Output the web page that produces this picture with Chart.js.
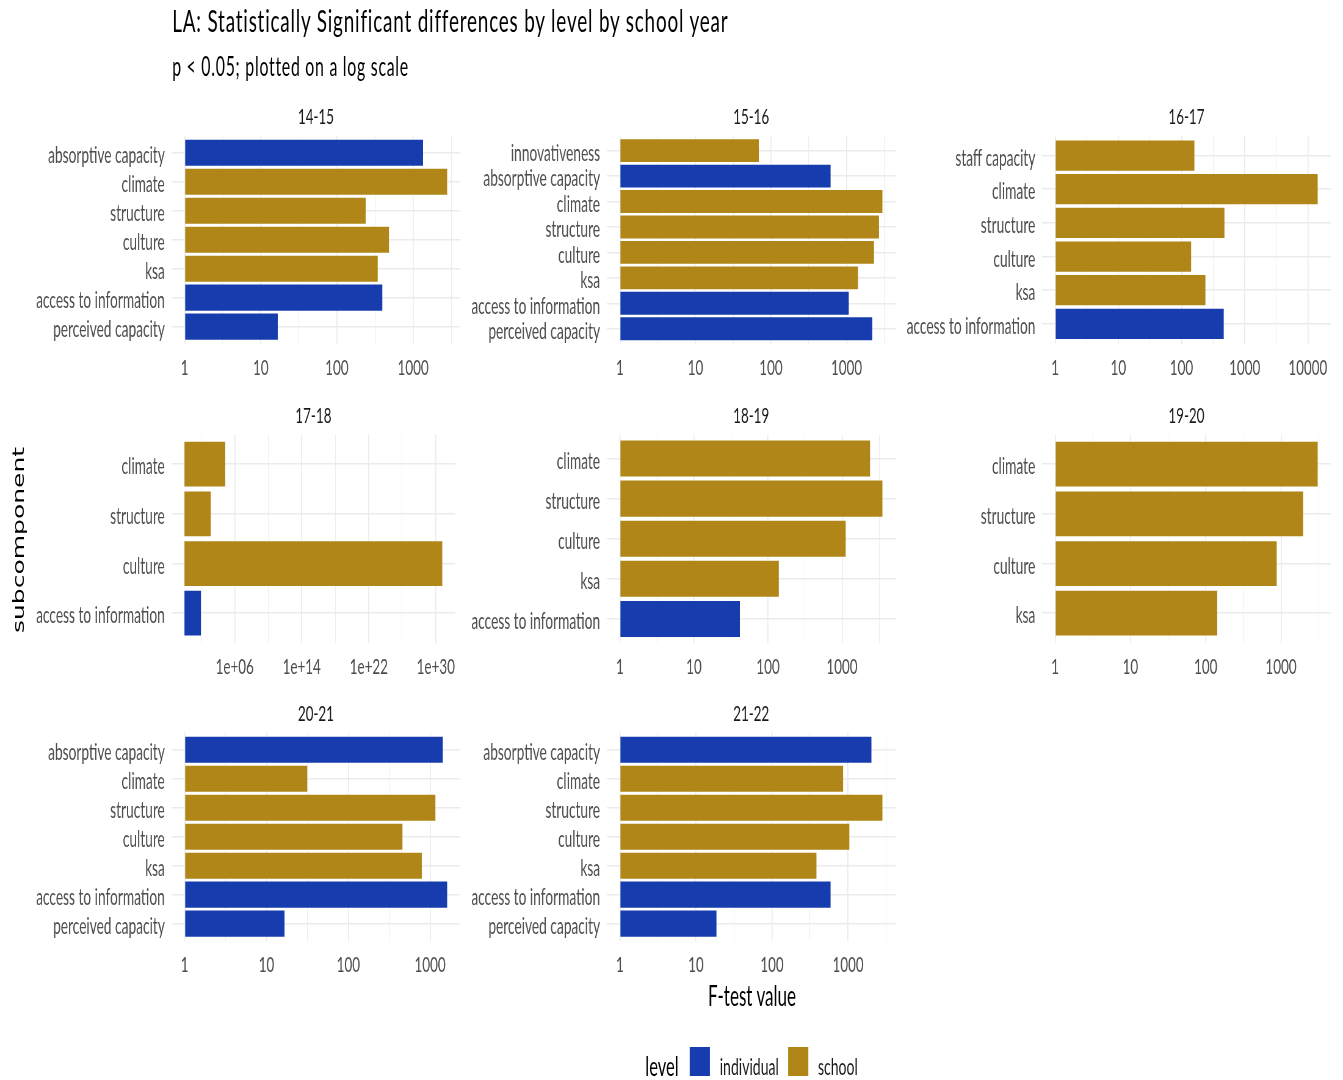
<!DOCTYPE html>
<html>
<head>
<meta charset="utf-8">
<title>LA: Statistically Significant differences by level by school year</title>
<script src="https://cdn.jsdelivr.net/npm/chart.js@4.4.1/dist/chart.umd.min.js"></script>
<style>
  html, body { margin: 0; padding: 0; background: #fff; overflow: hidden; }
  /* the original figure is a wide render squeezed sideways, so draw it wide and squeeze it */
  #page { position: relative; width: 2200px; height: 1080px; transform: scaleX(0.61045); transform-origin: 0 0;
          font-family: Lato, sans-serif; color: #000; }
  #page canvas { position: absolute; }
  .txt { position: absolute; white-space: nowrap; }
  .title { left: 282px; top: 1px; font-size: 31px; line-height: 38px; letter-spacing: 1.3px; }
  .subtitle { left: 282px; top: 51px; font-size: 26px; line-height: 30px; letter-spacing: 1.2px; }
  .xtitle { left: 1032px; width: 400px; text-align: center; top: 979px; font-size: 28px; line-height: 32px; }
  .ytitle { left: 31px; top: 540px; font-family: 'DejaVu Sans', sans-serif; font-size: 25px; line-height: 28px;
            transform: translate(-50%, -50%) rotate(-90deg); }
  .key { position: absolute; top: 1047px; width: 33px; height: 29px; }
  .lg { top: 1051px; line-height: 30px; font-size: 23px; color: #1a1a1a; }
</style>
</head>
<body>
<div id="page">
  <div class="txt title">LA: Statistically Significant differences by level by school year</div>
  <div class="txt subtitle">p &lt; 0.05; plotted on a log scale</div>
  <div class="txt xtitle">F-test value</div>
  <div class="txt ytitle">subcomponent</div>
  <div class="txt lg" style="left:1057px; font-size:27px; color:#000">level</div>
  <div class="key" style="left:1130px; background:#163cae"></div>
  <div class="txt lg" style="left:1179px">individual</div>
  <div class="key" style="left:1291px; background:#af8617"></div>
  <div class="txt lg" style="left:1340px">school</div>
</div>
<script>
const BLUE = '#163cae';
const GOLD = '#af8617';

// 14-15
const labels1415 = ['absorptive capacity', 'climate', 'structure', 'culture', 'ksa', 'access to information', 'perceived capacity'];
const values1415 = [1350, 2800, 238, 482, 343, 394, 16.7];
const levels1415 = ['individual', 'school', 'school', 'school', 'school', 'individual', 'individual'];
const ticks1415 = ['1', '10', '100', '1000'];

// 15-16
const labels1516 = ['innovativeness', 'absorptive capacity', 'climate', 'structure', 'culture', 'ksa', 'access to information', 'perceived capacity'];
const values1516 = [69, 615, 2985, 2690, 2310, 1420, 1070, 2190];
const levels1516 = ['school', 'individual', 'school', 'school', 'school', 'school', 'individual', 'individual'];
const ticks1516 = ['1', '10', '100', '1000'];

// 16-17
const labels1617 = ['staff capacity', 'climate', 'structure', 'culture', 'ksa', 'access to information'];
const values1617 = [160, 14300, 478, 142, 239, 466];
const levels1617 = ['school', 'school', 'school', 'school', 'school', 'individual'];
const ticks1617 = ['1', '10', '100', '1000', '10000'];

// 17-18
const labels1718 = ['climate', 'structure', 'culture', 'access to information'];
const values1718 = [74000, 1380, 5.9e30, 93];
const levels1718 = ['school', 'school', 'school', 'individual'];
const ticks1718 = ['1e+06', '1e+14', '1e+22', '1e+30'];

// 18-19
const labels1819 = ['climate', 'structure', 'culture', 'ksa', 'access to information'];
const values1819 = [2390, 3510, 1120, 140, 41.7];
const levels1819 = ['school', 'school', 'school', 'school', 'individual'];
const ticks1819 = ['1', '10', '100', '1000'];

// 19-20
const labels1920 = ['climate', 'structure', 'culture', 'ksa'];
const values1920 = [3070, 1965, 877, 142];
const levels1920 = ['school', 'school', 'school', 'school'];
const ticks1920 = ['1', '10', '100', '1000'];

// 20-21
const labels2021 = ['absorptive capacity', 'climate', 'structure', 'culture', 'ksa', 'access to information', 'perceived capacity'];
const values2021 = [1430, 31.5, 1160, 459, 791, 1615, 16.6];
const levels2021 = ['individual', 'school', 'school', 'school', 'school', 'individual', 'individual'];
const ticks2021 = ['1', '10', '100', '1000'];

// 21-22
const labels2122 = ['absorptive capacity', 'climate', 'structure', 'culture', 'ksa', 'access to information', 'perceived capacity'];
const values2122 = [2030, 861, 2830, 1040, 384, 589, 18.6];
const levels2122 = ['individual', 'school', 'school', 'school', 'school', 'individual', 'individual'];
const ticks2122 = ['1', '10', '100', '1000'];

const panels = [
  { title: '14-15', labels: labels1415, values: values1415, levels: levels1415, ticks: ticks1415, row: 0, col: 0 },
  { title: '15-16', labels: labels1516, values: values1516, levels: levels1516, ticks: ticks1516, row: 0, col: 1 },
  { title: '16-17', labels: labels1617, values: values1617, levels: levels1617, ticks: ticks1617, row: 0, col: 2 },
  { title: '17-18', labels: labels1718, values: values1718, levels: levels1718, ticks: ticks1718, row: 1, col: 0 },
  { title: '18-19', labels: labels1819, values: values1819, levels: levels1819, ticks: ticks1819, row: 1, col: 1 },
  { title: '19-20', labels: labels1920, values: values1920, levels: levels1920, ticks: ticks1920, row: 1, col: 2 },
  { title: '20-21', labels: labels2021, values: values2021, levels: levels2021, ticks: ticks2021, row: 2, col: 0 },
  { title: '21-22', labels: labels2122, values: values2122, levels: levels2122, ticks: ticks2122, row: 2, col: 1 },
];

// facet geometry, in the unsqueezed page coordinates
const COLS = [
  { left: 0, width: 757, axisW: 281, padR: 3 },
  { left: 757, width: 713, axisW: 237, padR: 3 },
  { left: 1470, width: 730, axisW: 237, padR: 20 },
];
const ROW_TOPS = [102, 401, 699];
const CANVAS_H = 287;
const X_AXIS_H = 45;

Chart.defaults.font.family = 'Lato, sans-serif';

// ggplot-like log ticks: labelled majors plus unlabelled minors halfway (in log space)
function logTicks(tickLabels, lo, hi) {
  const majors = tickLabels.map((t) => ({ value: Number(t), text: t, minor: false }));
  const exps = majors.map((t) => Math.log10(t.value));
  const step = exps.length > 1 ? exps[1] - exps[0] : 1;
  const out = majors.slice();
  for (let e = exps[0] - step / 2; e <= exps[exps.length - 1] + step / 2 + 1e-9; e += step) {
    const v = Math.pow(10, e);
    if (v > lo && v < hi) out.push({ value: v, text: '', minor: true });
  }
  return out.filter((t) => t.value >= lo && t.value <= hi).sort((a, b) => a.value - b.value);
}

function makePanel(p) {
  const col = COLS[p.col];
  const canvas = document.createElement('canvas');
  canvas.width = col.width;
  canvas.height = CANVAS_H;
  canvas.style.left = col.left + 'px';
  canvas.style.top = ROW_TOPS[p.row] + 'px';
  document.getElementById('page').appendChild(canvas);

  // bars start at 1 (log10 = 0); 5% expansion each side like ggplot
  const m = Math.log10(Math.max(...p.values));
  const lo = Math.pow(10, -0.05 * m);
  const hi = Math.pow(10, 1.05 * m);
  const xticks = logTicks(p.ticks, lo, hi);
  const n = p.labels.length;

  return new Chart(canvas, {
    type: 'bar',
    data: {
      datasets: [{
        data: p.values.map((v, i) => ({ x: v, y: i })),
        backgroundColor: p.levels.map((l) => (l === 'individual' ? BLUE : GOLD)),
        borderWidth: 0,
        base: 1,
        categoryPercentage: 1,
        barPercentage: 0.9,
      }],
    },
    options: {
      indexAxis: 'y',
      responsive: false,
      devicePixelRatio: 1,
      animation: false,
      events: [],
      layout: { padding: { left: 0, right: col.padR, top: 0, bottom: 0 } },
      plugins: {
        legend: { display: false },
        tooltip: { enabled: false },
        title: {
          display: true,
          text: p.title,
          fullSize: false,
          color: '#1a1a1a',
          font: { size: 22, weight: 'normal' },
          padding: { top: 2, bottom: 5 },
        },
      },
      scales: {
        x: {
          type: 'logarithmic',
          min: lo,
          max: hi,
          bounds: 'data',
          afterBuildTicks: (scale) => { scale.ticks = xticks.map((t) => ({ ...t })); },
          afterFit: (scale) => { scale.height = X_AXIS_H; },
          ticks: {
            autoSkip: false,
            maxRotation: 0,
            padding: 11,
            color: '#4d4d4d',
            font: { size: 22 },
            callback: (v, i, ts) => ts[i].text || '',
          },
          grid: {
            drawTicks: false,
            color: '#ebebeb',
            lineWidth: (ctx) => (ctx.tick && ctx.tick.minor ? 0.9 : 1.7),
          },
          border: { display: false },
        },
        y: {
          type: 'linear',
          reverse: true,
          min: -0.6,
          max: n - 0.4,
          bounds: 'data',
          offset: false,
          afterBuildTicks: (scale) => { scale.ticks = p.labels.map((_, i) => ({ value: i })); },
          afterFit: (scale) => { scale.width = col.axisW; },
          ticks: {
            autoSkip: false,
            padding: 11,
            labelOffset: 3,
            color: '#4d4d4d',
            font: { size: 22.5 },
            callback: (v) => p.labels[v] ?? '',
          },
          grid: { offset: false, drawTicks: false, color: '#ebebeb', lineWidth: 1.5 },
          border: { display: false },
        },
      },
    },
  });
}

panels.forEach(makePanel);
</script>
</body>
</html>
